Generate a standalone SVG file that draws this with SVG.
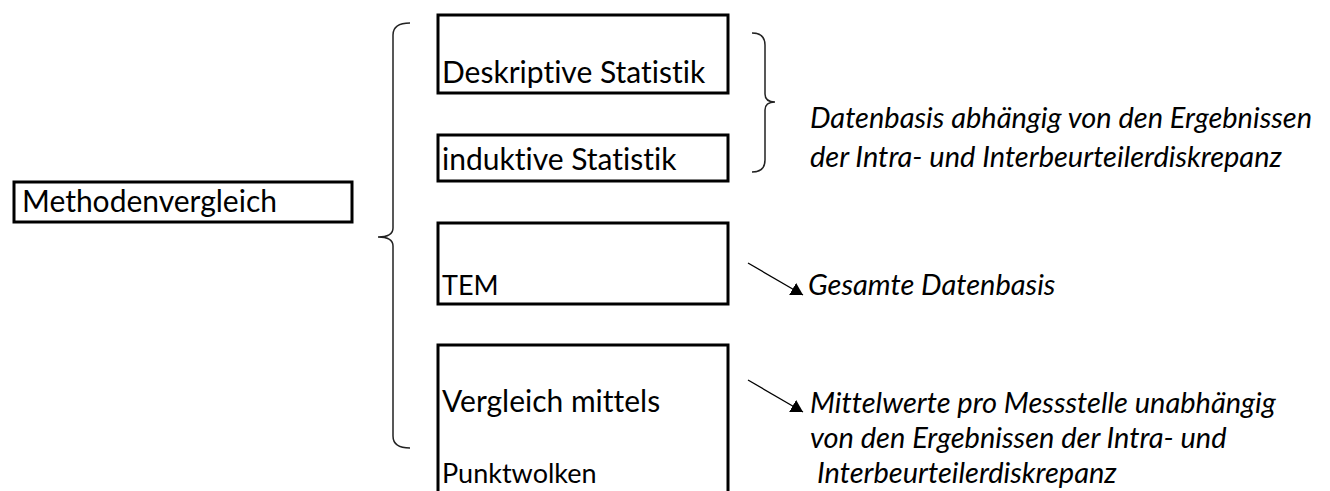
<svg xmlns="http://www.w3.org/2000/svg" width="1330" height="491" viewBox="0 0 1330 491">
<defs>
<style>
.box{fill:#fff;stroke:#000;stroke-width:3}
.t{font-family:Lato,"Liberation Sans",sans-serif;font-size:30px;fill:#000;font-variant-ligatures:none}
.ts{font-family:Lato,"Liberation Sans",sans-serif;font-size:27px;fill:#000;font-variant-ligatures:none}
.it{font-family:Lato,"Liberation Sans",sans-serif;font-size:29px;font-style:italic;fill:#000;font-variant-ligatures:none}
.brace{fill:none;stroke:#222;stroke-width:1.5}
.arr{fill:none;stroke:#000;stroke-width:1.3;marker-end:url(#ah)}
</style>
<marker id="ah" viewBox="0 0 12 14" refX="12" refY="7" markerWidth="12" markerHeight="14" markerUnits="userSpaceOnUse" orient="auto">
<path d="M0,0 L12,7 L0,14 z" fill="#000"/>
</marker>
</defs>
<rect width="1330" height="491" fill="#fff"/>
<g id="methodenvergleich">
<rect class="box" x="14" y="182" width="338" height="40"/>
<text class="t" x="22" y="212">Methodenvergleich</text>
</g>
<g id="deskriptive">
<rect class="box" x="438" y="15" width="290" height="78"/>
<text class="t" x="442" y="83">Deskriptive Statistik</text>
</g>
<g id="induktive">
<rect class="box" x="438" y="135" width="290" height="46"/>
<text class="t" x="442" y="170">induktive Statistik</text>
</g>
<g id="tem">
<rect class="box" x="438" y="223" width="290" height="81"/>
<text class="ts" x="442" y="295">TEM</text>
</g>
<g id="vergleich">
<rect class="box" x="438" y="345" width="290" height="160"/>
<text class="t" x="442" y="412">Vergleich mittels</text>
<text class="ts" x="442" y="483">Punktwolken</text>
</g>
<g id="note-datenbasis">
<text class="it" x="810" y="128">Datenbasis abhängig von den Ergebnissen</text>
<text class="it" x="810" y="167">der Intra- und Interbeurteilerdiskrepanz</text>
</g>
<g id="note-gesamt">
<text class="it" x="808" y="295">Gesamte Datenbasis</text>
</g>
<g id="note-mittelwerte">
<text class="it" x="810" y="413">Mittelwerte pro Messstelle unabhängig</text>
<text class="it" x="810" y="448">von den Ergebnissen der Intra- und</text>
<text class="it" x="817" y="483">Interbeurteilerdiskrepanz</text>
</g>
<g id="connectors">
<path class="brace" d="M410,23 Q393,23 393,35 L393,228 Q393,237 378,237 Q393,237 393,246 L393,436 Q393,448 410,448"/>
<path class="brace" d="M752,33 Q765,33 765,45 L765,94 Q765,102 775,102 Q765,102 765,110 L765,160 Q765,172 752,172"/>
<line class="arr" x1="748" y1="263" x2="803" y2="295"/>
<line class="arr" x1="748" y1="380" x2="803" y2="412"/>
</g>
</svg>
